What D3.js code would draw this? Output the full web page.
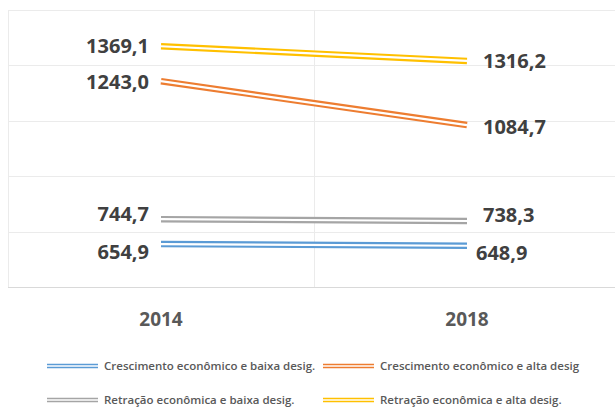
<!DOCTYPE html>
<html>
<head>
<meta charset="utf-8">
<title>Crescimento e desigualdade</title>
<style>
  body { margin: 0; background: #fff; }
  text { font-family: "Open Sans", sans-serif; }
</style>
</head>
<body>
<script src="https://cdn.jsdelivr.net/npm/d3@7/dist/d3.min.js"></script>
<script>
const years = ["2014", "2018"];
const seriesNames = [
  "Crescimento econômico e baixa desig.",
  "Crescimento econômico e alta desig",
  "Retração econômica e baixa desig.",
  "Retração econômica e alta desig."
];
const seriesColors = ["#5B9BD5", "#ED7D31", "#A5A5A5", "#FFC000"];
const baixaCresc = [654.9, 648.9];
const altaCresc = [1243.0, 1084.7];
const baixaRetr = [744.7, 738.3];
const altaRetr = [1369.1, 1316.2];
const yTicks = [500, 700, 900, 1100, 1300, 1500];

const width = 615, height = 408;
const plot = { left: 8, right: 620, top: 10, bottom: 287 };

const series = [baixaCresc, altaCresc, baixaRetr, altaRetr].map((vals, i) => ({
  name: seriesNames[i], color: seriesColors[i], values: vals
}));

const svg = d3.select("body").append("svg")
  .attr("width", width).attr("height", height);

const x = d3.scaleBand().domain(years).range([plot.left, plot.right]);
const y = d3.scaleLinear().domain([500, 1500]).range([plot.bottom, plot.top]);
const cx = d => x(d) + x.bandwidth() / 2;

// gridlines
svg.append("g").selectAll("line").data(yTicks).join("line")
  .attr("x1", plot.left).attr("x2", plot.right)
  .attr("y1", d => Math.round(y(d)) + 0.5).attr("y2", d => Math.round(y(d)) + 0.5)
  .attr("stroke", d => d === 500 ? "#d9d9d9" : "#ebebeb").attr("stroke-width", 1);

const bounds = [plot.left].concat(years.map(d => x(d) + x.bandwidth()));
svg.append("g").selectAll("line").data(bounds).join("line")
  .attr("x1", d => Math.round(d) + 0.5).attr("x2", d => Math.round(d) + 0.5)
  .attr("y1", plot.top).attr("y2", plot.bottom)
  .attr("stroke", "#ebebeb").attr("stroke-width", 1);

// category labels
svg.append("g").selectAll("text").data(years).join("text")
  .attr("x", cx).attr("y", 326)
  .attr("text-anchor", "middle")
  .attr("fill", "#595959").attr("font-size", 19).attr("font-weight", 700)
  .text(d => d);

// double lines: wide coloured stroke with a white core
const line = d3.line().x((v, i) => cx(years[i])).y(v => y(v));
const lines = svg.append("g").selectAll("g").data(series).join("g");
lines.append("path").attr("d", d => line(d.values))
  .attr("fill", "none").attr("stroke", d => d.color).attr("stroke-width", 6.5);
lines.append("path").attr("d", d => line(d.values))
  .attr("fill", "none").attr("stroke", "#fff").attr("stroke-width", 2.2);

// data labels (small vertical nudges for the two lower series, as in the original)
const nudge = [[7, 7], [0, 1], [-6, -6], [-1, 0]];
const fmt = v => d3.format(".1f")(v).replace(".", ",");
series.forEach((s, si) => {
  s.values.forEach((v, i) => {
    svg.append("text")
      .attr("x", i === 0 ? cx(years[0]) - 12 : cx(years[1]) + (si === 0 ? 9 : 16))
      .attr("y", y(v) + nudge[si][i] + 7.5)
      .attr("text-anchor", i === 0 ? "end" : "start")
      .attr("fill", "#404040").attr("font-size", 20).attr("font-weight", 700)
      .text(fmt(v));
  });
});

// legend
const legendPos = [[47, 366], [323, 366], [47, 400], [323, 400]];
const leg = svg.append("g").selectAll("g").data(series).join("g")
  .attr("transform", (d, i) => `translate(${legendPos[i][0]},${legendPos[i][1]})`);
leg.append("line").attr("x1", 0).attr("x2", 51).attr("y1", 0).attr("y2", 0)
  .attr("stroke", d => d.color).attr("stroke-width", 4.5);
leg.append("line").attr("x1", 0).attr("x2", 51).attr("y1", 0).attr("y2", 0)
  .attr("stroke", "#fff").attr("stroke-width", 1.3);
leg.append("text").attr("x", 57).attr("y", 4)
  .attr("fill", "#595959").attr("font-size", 11.5).attr("font-weight", 600)
  .text(d => d.name);
</script>
</body>
</html>
